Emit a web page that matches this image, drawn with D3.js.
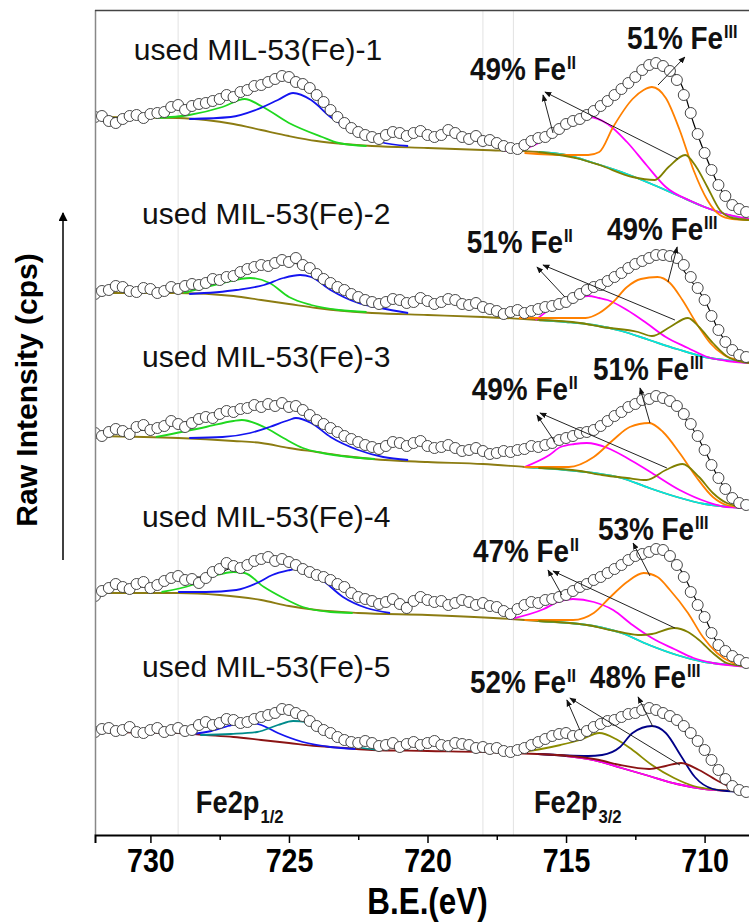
<!DOCTYPE html>
<html>
<head>
<meta charset="utf-8">
<script src="https://cdn.jsdelivr.net/npm/d3@7"></script>
<style>
  body { margin: 0; background: #fff; }
  svg { display: block; }
</style>
</head>
<body>
<div id="chart"></div>
<script>
// binding energy of every measured point (eV)
var energy = [
  732, 731.75, 731.5, 731.25, 731, 730.75, 730.5, 730.25,
  730, 729.75, 729.5, 729.25, 729, 728.75, 728.5, 728.25,
  728, 727.75, 727.5, 727.25, 727, 726.75, 726.5, 726.25,
  726, 725.75, 725.5, 725.25, 725, 724.75, 724.5, 724.25,
  724, 723.75, 723.5, 723.25, 723, 722.75, 722.5, 722.25,
  722, 721.75, 721.5, 721.25, 721, 720.75, 720.5, 720.25,
  720, 719.75, 719.5, 719.25, 719, 718.75, 718.5, 718.25,
  718, 717.75, 717.5, 717.25, 717, 716.75, 716.5, 716.25,
  716, 715.75, 715.5, 715.25, 715, 714.75, 714.5, 714.25,
  714, 713.75, 713.5, 713.25, 713, 712.75, 712.5, 712.25,
  712, 711.75, 711.5, 711.25, 711, 710.75, 710.5, 710.25,
  710, 709.75, 709.5, 709.25, 709, 708.75, 708.5
];

// raw counts, stacked with offset (a.u.)
var raw1 = [
  718,719,714,712,716,719,720,717, 721,722,723,728,730,725,729,731,
  732,734,736,740,738,743,745,749, 750,753,756,759,758,753,751,747,
  740,733,725,718,712,707,703,700, 698,696,700,703,702,699,702,704,
  700,698,700,705,702,698,696,699, 694,695,692,689,687,686,690,694,
  697,698,702,706,711,714,716,720, 724,729,734,740,746,752,758,765,
  770,772,769,764,755,740,722,701, 682,665,650,639,630,626,623
];
var raw2 = [
  541,544,545,549,548,544,543,547, 546,542,544,548,546,549,551,550,
  552,556,555,558,559,563,566,568, 570,569,572,575,573,577,570,567,
  561,556,552,548,545,541,538,535, 533,531,533,536,535,532,533,537,
  534,531,533,536,535,531,530,532, 528,526,524,521,523,525,522,524,
  526,528,529,531,533,537,541,545, 548,550,554,558,562,567,571,574,
  577,580,580,579,577,570,558,547, 535,519,505,493,485,480,478
];
var raw3 = [
  402,399,403,406,404,401,408,410, 405,407,409,414,411,408,412,416,
  418,417,421,424,423,426,427,430, 428,431,429,432,428,429,425,420,
  415,411,407,403,399,396,393,390, 388,386,389,393,392,389,392,394,
  389,387,388,390,387,384,385,387, 384,381,382,384,383,385,386,389,
  388,390,392,395,397,399,402,403, 405,409,414,419,423,428,431,435,
  436,439,437,434,429,421,411,399, 385,370,357,346,337,332,330
];
var raw4 = [
  239,244,247,251,248,246,251,253, 247,250,254,257,259,255,256,252,
  257,263,266,272,269,267,270,274, 276,278,274,276,273,270,266,263,
  260,258,255,251,248,242,238,236, 234,231,233,236,231,227,234,238,
  235,233,234,230,232,235,233,230, 232,229,228,224,221,226,230,233,
  232,235,236,238,240,244,248,251, 255,258,262,266,270,275,279,281,
  283,286,285,279,270,258,243,230, 218,202,190,184,179,175,172
];
var raw5 = [
  103,106,107,104,105,108,103,102, 105,107,103,105,107,104,105,110,
  113,110,112,116,115,112,113,116, 118,120,122,126,125,122,119,114,
  109,105,102,98,95,93,92,94, 92,89,90,92,88,91,93,90,
  92,94,90,89,92,91,90,87, 88,86,87,84,83,85,87,90,
  93,96,99,101,102,99,100,104, 108,111,114,115,118,121,122,125,
  127,125,122,119,115,109,102,94, 85,75,65,56,49,45,43
];
var rawCounts = [raw1, raw2, raw3, raw4, raw5];

var sampleNames = ["used MIL-53(Fe)-1", "used MIL-53(Fe)-2", "used MIL-53(Fe)-3",
                   "used MIL-53(Fe)-4", "used MIL-53(Fe)-5"];
var fe2Share = ["49%", "51%", "49%", "47%", "52%"];
var fe3Share = ["51%", "49%", "51%", "53%", "48%"];

// fitted curves, [eV, counts]
var background = [
  [[732,718],[729,717],[728,715],[727,711],[726,705],[725,699],[724,694],[723,691],[722,689],[720,687],[718,685],[716,683],[715,680],[714,672],[713,663],[712,652],[711,640],[710,628],[709,619],[708.3,615]],
  [[732,542],[729,542],[727,539],[726,535],[725,531],[724,527],[723,524],[722,522],[720,520],[718,518],[716,515],[715,513],[714,510],[713,504],[712,495],[711,486],[710,478],[709,474],[708.3,472]],
  [[732,399],[729,397],[727,394],[726,392],[725,387],[724,383],[723,379],[722,376],[720,373],[718,371],[716.5,368],[715,365],[714,362],[713,357],[712,347],[711,338],[710,331],[709,328],[708.3,327]],
  [[732,242],[729,242],[727.5,240],[726,235],[725,229],[724,225],[722.5,222],[720,220],[717,216],[716,214],[714,209],[713,202],[712,190],[711,180],[710,173],[709,170],[708.3,168]],
  [[732,103],[729,102],[728,100],[727,98],[726,95],[725,92],[724,89],[723,87],[722,85],[720,84],[717,82],[715,79],[714,75],[713,67],[712,59],[711,51],[710,46],[709,44],[708.3,43]]
];
var peakA = [
  [[729.8,717],[728.6,720],[727.4,728],[726.6,736],[726.0,729],[725.0,712],[723.8,698],[723.2,692],[722.2,689]],
  [[728.8,542],[727.4,552],[726.4,557],[725.7,552],[725.0,538],[724.2,530],[723.2,525],[722.2,523]],
  [[729.8,398],[728.0,408],[727.0,414],[726.7,415],[725.9,408],[725.2,397],[724.5,387],[723.8,382],[722.8,378],[721.9,376]],
  [[729.6,243],[728.5,250],[727.6,260],[727.0,263],[726.6,262],[725.9,248],[725.2,237],[724.5,228],[723.5,223],[722.7,222]],
  [[728.5,101],[727.8,104],[727.2,109],[726.6,113],[726.0,110],[725.4,102],[724.5,93],[723.5,88],[722.6,86]]
];
var peakB = [
  [[728.6,716],[727.1,718],[726.2,725],[725.4,735],[724.85,742],[724.2,735],[723.5,718],[722.5,702],[721.7,693],[720.7,689]],
  [[728.6,541],[726.9,545],[725.9,550],[725.2,557],[724.6,560],[724.2,558],[723.5,545],[722.5,532],[721.7,527],[720.7,522]],
  [[728.6,397],[727.4,398],[726.4,402],[725.7,408],[725.0,415],[724.75,417],[724.2,412],[723.5,398],[722.5,385],[721.6,378],[720.7,375]],
  [[729.0,243],[728.0,243],[726.9,245],[726.15,252],[725.6,260],[724.96,265],[724.6,267],[723.8,255],[723.05,238],[722.2,227],[721.35,222]],
  [[728.2,100],[727.1,101],[726.15,103],[725.4,110],[724.85,114],[724.35,113],[723.8,105],[723.2,95],[722.5,88],[721.7,85]]
];
var peakFe2 = [
  [[717.2,684],[716.3,688],[715.2,705],[714.6,713],[714.15,718],[713.5,711],[712.8,693],[712.1,670],[711.4,648],[710.5,634],[709.5,623],[708.4,616]],
  [[716.1,515],[715.2,532],[714.6,537],[714.2,539],[713.8,537],[713.5,535],[712.8,525],[712.1,512],[711.4,498],[710.6,487],[709.9,478],[709.2,474],[708.4,472]],
  [[716.5,368],[715.6,380],[715.2,388],[714.7,391],[714.25,392],[713.5,387],[712.8,377],[711.9,362],[710.9,345],[709.9,333],[709.2,328],[708.4,327]],
  [[717.0,216],[715.8,226],[715.3,233],[714.75,236],[714.0,233],[713.3,225],[712.6,210],[711.9,197],[711.1,186],[710.4,177],[709.7,172],[708.8,169],[708.3,168]],
  [[717.0,82],[715.9,86],[715.2,90],[714.5,95],[713.8,102],[713.2,96],[712.6,85],[711.9,70],[711.1,57],[710.4,49],[709.5,45],[708.4,43]]
];
var peakFe3 = [
  [[716.5,682],[715,680],[714.2,680],[713.8,683],[713.3,708],[712.6,736],[712.2,745],[711.9,748],[711.4,737],[710.9,705],[710.4,665],[709.9,635],[709.45,620],[709,616],[708.4,615]],
  [[716.7,517],[714.3,517],[713.8,522],[713.3,533],[712.8,548],[712.3,556],[711.7,558],[711.25,552],[710.8,535],[710.3,512],[709.8,492],[709.3,480],[708.8,475],[708.3,472]],
  [[716.5,368],[714.9,368],[714.0,378],[713.3,395],[712.7,408],[712.0,412],[711.5,403],[710.9,382],[710.3,358],[709.7,338],[709.2,330],[708.4,327]],
  [[716.5,215],[714.75,215],[714.0,222],[713.4,238],[712.8,253],[712.2,262],[711.7,258],[711.25,245],[710.6,222],[710.06,198],[709.55,182],[708.98,172],[708.3,168]],
  [[716,81],[714.2,79],[713.7,80],[713.05,88],[712.6,102],[711.9,109],[711.4,102],[710.85,79],[710.35,58],[709.7,46],[709.2,44],[708.4,43]]
];
var satellite = [
  [[716,683],[714.5,676],[713.8,670],[712.6,658],[711.8,655],[711.3,668],[710.7,680],[710.3,668],[709.9,648],[709.45,625],[709,617],[708.4,615]],
  [[716,515],[714.5,512],[713.7,508],[712.4,503],[711.9,499],[711.25,508],[710.6,517],[710.2,508],[709.7,492],[709.1,477],[708.4,472]],
  [[716,367],[714.5,364],[713.7,360],[712.8,357],[712.1,355],[711.4,365],[710.8,371],[710.2,358],[709.7,342],[709.2,332],[708.4,327]],
  [[716,214],[714.25,210],[713.05,203],[712.3,200],[711.9,201],[711.1,207],[710.6,203],[710.2,195],[709.7,182],[709.2,172],[708.4,168]],
  [[716,81],[714.5,78],[713.8,75],[713.05,70],[712.0,66],[711.4,69],[710.85,72],[710.2,65],[709.45,53],[708.8,45],[708.3,43]]
];
var envelope = [
  [[732,718],[731,717],[730,721],[729,727],[728,732],[727,739],[726,749],[725.3,757],[724.5,750],[724,741],[723.5,727],[723,712],[722.3,700],[721,701],[720,700],[719,701],[718,694],[717,688],[716,696],[715,711],[714,724],[713.5,735],[713,746],[712.5,759],[712,769],[711.6,771],[711.2,765],[710.8,748],[710.4,712],[710,682],[709.5,650],[709,630],[708.4,622]],
  [[732,543],[731,547],[730,546],[729,546],[728,552],[727,559],[726,570],[725.3,573],[724.5,570],[724,561],[723.5,552],[723,545],[722.3,535],[721,535],[720,534],[719,535],[718,528],[717,523],[716,526],[715,533],[714,548],[713.5,554],[713,562],[712.5,571],[712,577],[711.6,580],[711.2,579],[710.8,566],[710.4,551],[710,535],[709.5,505],[709,485],[708.4,478]],
  [[732,402],[731,404],[730,405],[729,411],[728,418],[727,423],[726,428],[725.3,430],[724.5,425],[724,415],[723.5,407],[723,399],[722.3,390],[721,392],[720,389],[719,387],[718,384],[717,383],[716,388],[715,397],[714,405],[713.5,414],[713,423],[712.5,431],[712,436],[711.6,437],[711.2,432],[710.8,420],[710.4,405],[710,385],[709.5,357],[709,337],[708.4,330]],
  [[732,240],[731,248],[730,248],[729,258],[728,258],[727,268],[726,275],[725.3,275],[724.5,266],[724,260],[723.5,255],[723,248],[722.3,235],[721,232],[720,235],[719,232],[718,232],[717,223],[716,232],[715,240],[714,255],[713.5,262],[713,270],[712.5,279],[712,283],[711.6,285],[711.2,279],[710.8,262],[710.4,240],[710,218],[709.5,190],[709,179],[708.4,172]],
  [[732,104],[731,105],[730,105],[729,106],[728,112],[727,115],[726,118],[725.3,124],[724.5,119],[724,109],[723.5,102],[723,95],[722.3,92],[721,89],[720,92],[719,92],[718,88],[717,84],[716,93],[715,101],[714,108],[713.5,114],[713,118],[712.5,122],[712,126],[711.6,124],[711.2,118],[710.8,106],[710.4,96],[710,85],[709.5,65],[709,49],[708.4,43]]
];

var majorTicks = [730, 725, 720, 715, 710];
var minorTicks = [727.5, 722.5, 717.5, 712.5];
var guideLines = [729, 718, 716.9];

// ---- layout ----
var W = 749, H = 922;
var x = d3.scaleLinear().domain([732, 708]).range([95, 760]);
var y = d3.scaleLinear().domain([0, 825]).range([835, 10]);

// colours: curves of the first four samples, the last one uses its own set
var palette = {
  bg: "#8c7c12", low: "#00e6e6", a: "#1fd81f", b: "#1414f0",
  fe2: "#ff00ff", fe3: "#ff8000", sat: "#808000"
};
var palette5 = {
  bg: "#8b1414", low: "#ff00ff", a: "#1414f0", b: "#008b8b",
  fe2: "#8b8b00", fe3: "#000088", sat: "#8b1414"
};

var svg = d3.select("#chart").append("svg")
    .attr("width", W)
    .attr("height", H)
    .style("font-family", "'Liberation Sans', Arial, sans-serif");

svg.append("defs").append("clipPath").attr("id", "plot")
  .append("rect").attr("x", 96).attr("y", 0).attr("width", W).attr("height", 835);

svg.select("defs").append("marker")
    .attr("id", "head")
    .attr("viewBox", "0 0 10 10")
    .attr("refX", 9).attr("refY", 5)
    .attr("markerWidth", 7).attr("markerHeight", 7)
    .attr("markerUnits", "userSpaceOnUse")
    .attr("orient", "auto")
  .append("path").attr("d", "M0,1 L10,5 L0,9 Z").attr("fill", "#111");

svg.select("defs").append("marker")
    .attr("id", "bighead")
    .attr("viewBox", "0 0 10 10")
    .attr("refX", 9).attr("refY", 5)
    .attr("markerWidth", 16).attr("markerHeight", 9)
    .attr("markerUnits", "userSpaceOnUse")
    .attr("orient", "auto")
  .append("path").attr("d", "M0,0 L10,5 L0,10 Z").attr("fill", "#000");

// faint reference lines
svg.selectAll(".guide")
    .data(guideLines)
  .enter().append("line")
    .attr("class", "guide")
    .attr("x1", function(d) { return x(d); })
    .attr("x2", function(d) { return x(d); })
    .attr("y1", 10).attr("y2", 835)
    .attr("stroke", "#e2e2e2")
    .attr("stroke-width", 1);

var line = d3.line()
    .x(function(d) { return x(d[0]); })
    .y(function(d) { return y(d[1]); })
    .curve(d3.curveMonotoneX);

var plot = svg.append("g").attr("clip-path", "url(#plot)");

rawCounts.forEach(function(counts, k) {
  var c = k === 4 ? palette5 : palette;
  var g = plot.append("g");

  function curve(pts, col) {
    g.append("path")
      .attr("d", line(pts))
      .attr("fill", "none")
      .attr("stroke", col)
      .attr("stroke-width", 1.8);
  }

  curve(background[k], c.bg);
  curve(background[k].filter(function(d) { return d[0] <= 716.5; }), c.low);
  curve(peakA[k], c.a);
  curve(peakB[k], c.b);
  curve(peakFe2[k], c.fe2);
  curve(peakFe3[k], c.fe3);
  curve(satellite[k], c.sat);

  g.append("path")
    .attr("d", line(envelope[k]))
    .attr("fill", "none")
    .attr("stroke", "#000")
    .attr("stroke-width", 1.2);

  g.selectAll("circle")
      .data(counts)
    .enter().append("circle")
      .attr("cx", function(d, i) { return x(energy[i]); })
      .attr("cy", function(d) { return y(d); })
      .attr("r", 5.5)
      .attr("fill", "#fff")
      .attr("stroke", "#333")
      .attr("stroke-width", 0.9);
});

// sample names
var nameAt = [[730.6, 775], [730.3, 611], [730.3, 468], [730.3, 308], [730.3, 158]];
svg.selectAll(".name")
    .data(sampleNames)
  .enter().append("text")
    .attr("class", "name")
    .attr("x", function(d, i) { return x(nameAt[i][0]); })
    .attr("y", function(d, i) { return y(nameAt[i][1]); })
    .attr("font-size", 30)
    .attr("fill", "#111")
    .text(function(d) { return d; });

// Fe(II) / Fe(III) call-outs
var callouts = [
  {ii: [718.47, 755], iii: [712.8, 786],
   arrII: [[715.47, 702, 715.83, 740], [710.96, 676, 715.76, 743]], arrIII: [[711.68, 750, 710.71, 778]]},
  {ii: [718.58, 582], iii: [713.52, 595],
   arrII: [[715.04, 538, 716.05, 568], [711.07, 515, 715.83, 570]], arrIII: [[711.32, 553, 710.99, 588]]},
  {ii: [718.4, 435], iii: [714.03, 455],
   arrII: [[715.4, 393, 716.05, 420], [711.36, 367, 715.94, 422]], arrIII: [[711.97, 412, 712.33, 447]]},
  {ii: [718.36, 273], iii: [713.85, 295],
   arrII: [[715.15, 240, 715.65, 265], [711.07, 207, 715.47, 264]], arrIII: [[711.97, 259, 712.58, 292]]},
  {ii: [718.47, 142], iii: [714.14, 147],
   arrII: [[714.5, 105, 714.97, 135], [710.89, 70, 714.86, 137]], arrIII: [[711.86, 108, 712.4, 138]]}
];

function fe(pos, share, ox) {
  var t = svg.append("g")
      .attr("transform", "translate(" + x(pos[0]) + "," + y(pos[1]) + ")")
    .append("text")
      .attr("transform", "scale(0.9,1)")
      .attr("font-size", 31)
      .attr("font-weight", "bold")
      .attr("fill", "#111");
  t.append("tspan").text(share + " Fe");
  t.append("tspan")
      .attr("dx", 1).attr("dy", -11)
      .attr("font-size", 18)
      .text(ox);
}

callouts.forEach(function(cl, k) {
  cl.arrII.concat(cl.arrIII).forEach(function(a) {
    svg.append("line")
      .attr("x1", x(a[0])).attr("y1", y(a[1]))
      .attr("x2", x(a[2])).attr("y2", y(a[3]))
      .attr("stroke", "#222")
      .attr("stroke-width", 1)
      .attr("marker-end", "url(#head)");
  });
  fe(cl.ii, fe2Share[k], "II");
  fe(cl.iii, fe3Share[k], "III");
});

// Fe2p level labels
[["Fe2p", "1/2", 728.36], ["Fe2p", "3/2", 716.16]].forEach(function(l) {
  var t = svg.append("g")
      .attr("transform", "translate(" + x(l[2]) + "," + y(22) + ")")
    .append("text")
      .attr("transform", "scale(0.88,1)")
      .attr("font-size", 31)
      .attr("font-weight", "bold")
      .attr("fill", "#111");
  t.append("tspan").text(l[0]);
  t.append("tspan").attr("dx", 1).attr("dy", 10).attr("font-size", 19).text(l[1]);
});

// frame
svg.append("line")
    .attr("x1", 95.5).attr("x2", 95.5).attr("y1", 10).attr("y2", 835)
    .attr("stroke", "#888").attr("stroke-width", 1.5);
svg.append("line")
    .attr("x1", 95).attr("x2", W).attr("y1", 10.5).attr("y2", 10.5)
    .attr("stroke", "#444").attr("stroke-width", 1.5);

var xAxis = d3.axisBottom(x)
    .tickValues(majorTicks)
    .tickSize(8)
    .tickPadding(5)
    .tickFormat(d3.format("d"));

var gx = svg.append("g")
    .attr("transform", "translate(0,835)")
    .call(xAxis);
gx.select(".domain").attr("stroke", "#000").attr("stroke-width", 2);
gx.selectAll(".tick line").attr("stroke", "#000").attr("stroke-width", 1.5);
gx.selectAll(".tick text")
    .attr("fill", "#000")
    .attr("transform", "scale(0.84,1)")
    .style("font-family", "'Liberation Sans', Arial, sans-serif")
    .style("font-weight", "bold")
    .style("font-size", "34px");

svg.append("g")
    .attr("transform", "translate(0,835)")
    .call(d3.axisBottom(x).tickValues(minorTicks).tickSize(5).tickFormat(""))
    .call(function(g) { g.select(".domain").remove(); })
    .selectAll(".tick line").attr("stroke", "#000").attr("stroke-width", 1.5);

svg.append("g")
    .attr("transform", "translate(" + x(720) + ",914)")
  .append("text")
    .attr("transform", "scale(0.85,1)")
    .attr("text-anchor", "middle")
    .attr("font-weight", "bold")
    .attr("font-size", 37)
    .text("B.E.(eV)");

svg.append("text")
    .attr("transform", "translate(37,390) rotate(-90)")
    .attr("text-anchor", "middle")
    .attr("font-weight", "bold")
    .attr("font-size", 30)
    .text("Raw Intensity (cps)");

svg.append("line")
    .attr("x1", 63).attr("x2", 63).attr("y1", 560).attr("y2", 213)
    .attr("stroke", "#000").attr("stroke-width", 1.5)
    .attr("marker-end", "url(#bighead)");
</script>
</body>
</html>
